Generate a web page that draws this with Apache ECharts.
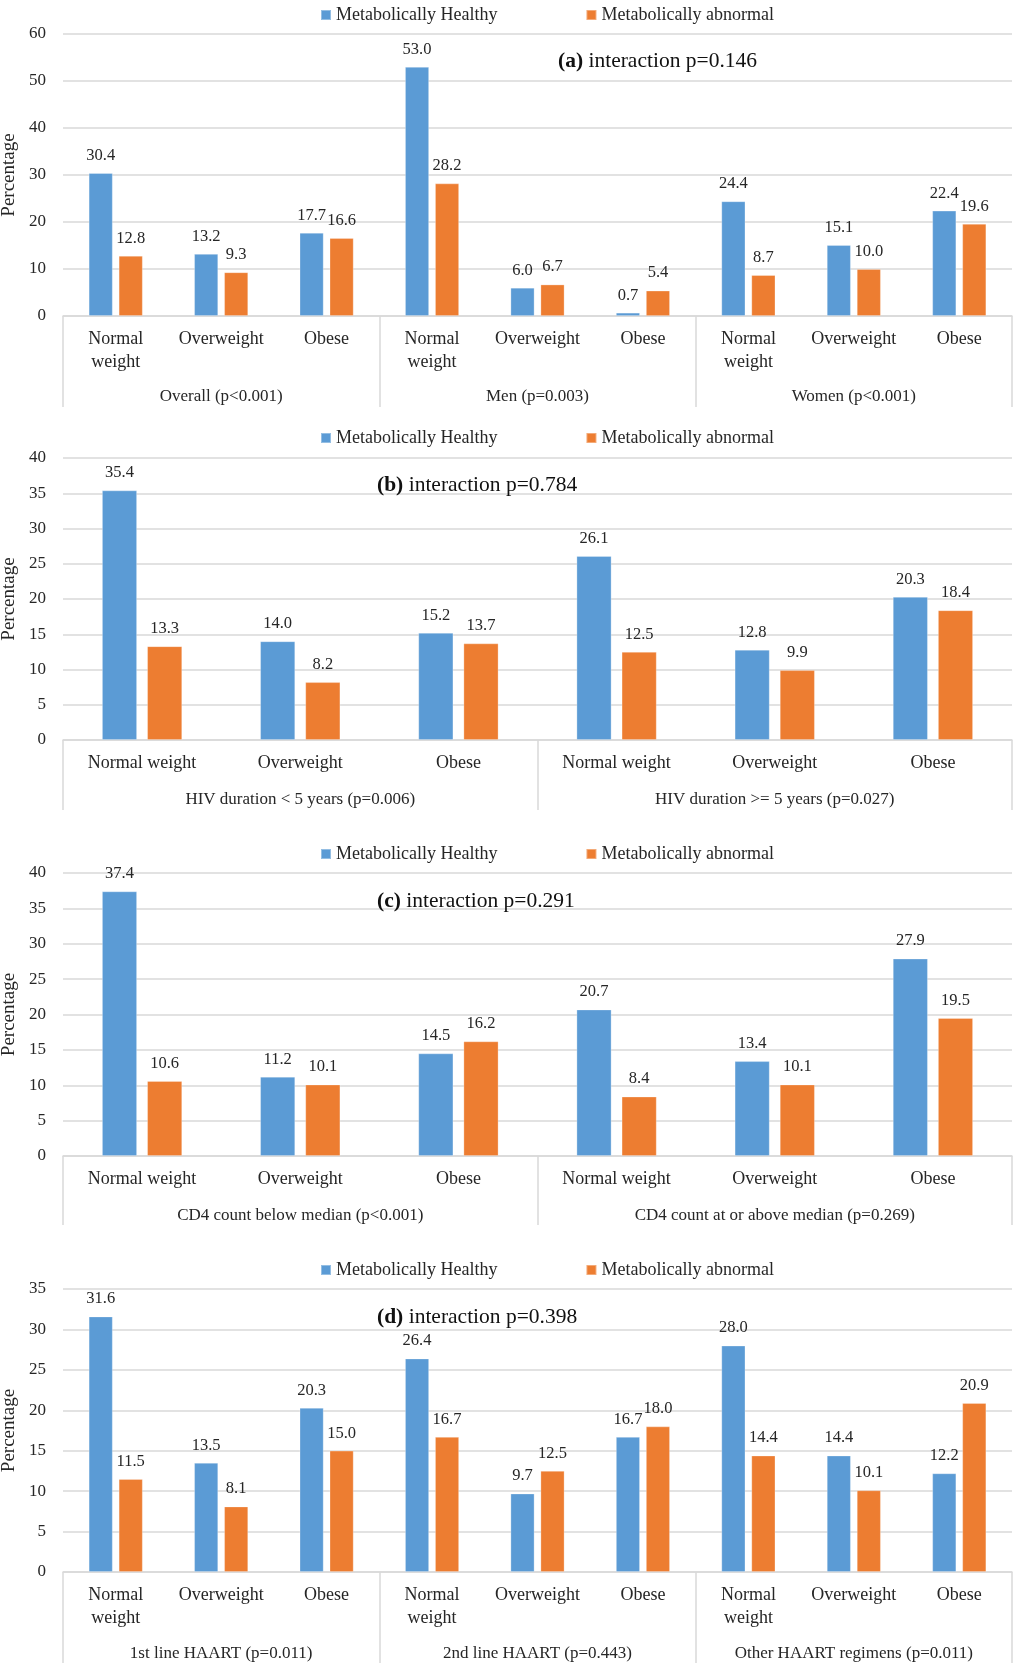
<!DOCTYPE html>
<html>
<head>
<meta charset="utf-8">
<script src="https://cdn.jsdelivr.net/npm/echarts@6/dist/echarts.min.js"></script>
<style>
html,body{margin:0;padding:0;background:#fff;}
#chart{width:1024px;height:1670px;}
</style>
</head>
<body>
<div id="chart"></div>
<script>
// ---- data ----
const seriesNames = ['Metabolically Healthy', 'Metabolically abnormal'];
const weightCats = ['Normal weight', 'Overweight', 'Obese'];

const groupsA = ['Overall (p<0.001)', 'Men (p=0.003)', 'Women (p<0.001)'];
const healthyA = [30.4, 13.2, 17.7, 53.0, 6.0, 0.7, 24.4, 15.1, 22.4];
const abnormalA = [12.8, 9.3, 16.6, 28.2, 6.7, 5.4, 8.7, 10.0, 19.6];

const groupsB = ['HIV duration < 5 years (p=0.006)', 'HIV duration >= 5 years (p=0.027)'];
const healthyB = [35.4, 14.0, 15.2, 26.1, 12.8, 20.3];
const abnormalB = [13.3, 8.2, 13.7, 12.5, 9.9, 18.4];

const groupsC = ['CD4 count below median (p<0.001)', 'CD4 count at or above median (p=0.269)'];
const healthyC = [37.4, 11.2, 14.5, 20.7, 13.4, 27.9];
const abnormalC = [10.6, 10.1, 16.2, 8.4, 10.1, 19.5];

const groupsD = ['1st line HAART (p=0.011)', '2nd line HAART (p=0.443)', 'Other HAART regimens (p=0.011)'];
const healthyD = [31.6, 13.5, 20.3, 26.4, 9.7, 16.7, 28.0, 14.4, 12.2];
const abnormalD = [11.5, 8.1, 15.0, 16.7, 12.5, 18.0, 14.4, 10.1, 20.9];

const titlesTag = ['(a)', '(b)', '(c)', '(d)'];
const titlesText = ['interaction p=0.146', 'interaction p=0.784', 'interaction p=0.291', 'interaction p=0.398'];
const yMax = [60, 40, 40, 35];
const yStep = [10, 5, 5, 5];

// ---- layout ----
const FONT = 'Liberation Serif';
const TXT = '#262626';
const GRID = '#d9d9d9';
const BLUE = '#5B9BD5';
const ORANGE = '#ED7D31';

const panels = [
  {groups: groupsA, h: healthyA, a: abnormalA, top: 34, height: 282, wrap: true, legendTop: 6, titleTop: 50, titleLeft: 558, barW: 24, gap: '25%', tickLen: 91, groupMargin: 71},
  {groups: groupsB, h: healthyB, a: abnormalB, top: 458, height: 282, wrap: false, legendTop: 429, titleTop: 474, titleLeft: 377, barW: 35, gap: '29%', tickLen: 70, groupMargin: 50},
  {groups: groupsC, h: healthyC, a: abnormalC, top: 873, height: 283, wrap: false, legendTop: 845, titleTop: 890, titleLeft: 377, barW: 35, gap: '29%', tickLen: 69, groupMargin: 50},
  {groups: groupsD, h: healthyD, a: abnormalD, top: 1289, height: 283, wrap: true, legendTop: 1261, titleTop: 1306, titleLeft: 377, barW: 24, gap: '25%', tickLen: 91, groupMargin: 72}
];

const option = {
  animation: false,
  backgroundColor: '#fff',
  textStyle: {fontFamily: FONT, color: TXT},
  title: [], legend: [], grid: [], xAxis: [], yAxis: [], series: []
};

panels.forEach((p, i) => {
  const cats = [];
  p.groups.forEach(() => weightCats.forEach(c => cats.push(c)));
  option.grid.push({left: 63, right: 12, top: p.top, height: p.height, containLabel: false, outerBoundsMode: 'none'});
  option.title.push({
    text: '{b|' + titlesTag[i] + '} ' + titlesText[i],
    left: p.titleLeft, top: p.titleTop, padding: 0,
    textStyle: {
      fontFamily: FONT, fontSize: 21.5, fontWeight: 'normal', color: '#111',
      rich: {b: {fontFamily: FONT, fontSize: 21.5, fontWeight: 'bold', color: '#111'}}
    }
  });
  option.legend.push({
    data: seriesNames, left: 320, top: p.legendTop, padding: 0,
    itemWidth: 10, itemHeight: 10, itemGap: 88, icon: 'rect',
    textStyle: {fontFamily: FONT, fontSize: 18, color: TXT}
  });
  option.xAxis.push({
    type: 'category', gridIndex: i, data: cats, position: 'bottom',
    axisLine: {show: true, lineStyle: {color: GRID, width: 1.5}},
    axisTick: {show: false},
    axisLabel: {
      interval: 0, margin: 12, fontFamily: FONT, fontSize: 18, color: TXT, lineHeight: 23,
      formatter: v => p.wrap ? v.replace(' ', '\n') : v
    }
  });
  option.xAxis.push({
    type: 'category', gridIndex: i, data: p.groups, position: 'bottom',
    axisLine: {show: false},
    axisTick: {show: true, interval: 0, length: p.tickLen, lineStyle: {color: GRID, width: 1.5}},
    axisLabel: {interval: 0, margin: p.groupMargin, fontFamily: FONT, fontSize: 17, color: TXT, lineHeight: 20},
    splitLine: {show: false}
  });
  option.yAxis.push({
    type: 'value', gridIndex: i, min: 0, max: yMax[i], interval: yStep[i],
    name: 'Percentage', nameLocation: 'middle', nameRotate: 90, nameGap: 37,
    nameTextStyle: {fontFamily: FONT, fontSize: 19, color: TXT},
    axisLine: {show: false}, axisTick: {show: false},
    axisLabel: {fontFamily: FONT, fontSize: 17, color: TXT, margin: 17},
    splitLine: {lineStyle: {color: GRID, width: 1.5}}
  });
  const xi = i * 2;
  [p.h, p.a].forEach((vals, k) => {
    option.series.push({
      name: seriesNames[k], type: 'bar', xAxisIndex: xi, yAxisIndex: i,
      data: vals, barWidth: p.barW, barGap: p.gap,
      itemStyle: {color: k === 0 ? BLUE : ORANGE, borderColor: 'rgba(255,255,255,0.35)', borderWidth: 0.8},
      label: {
        show: true, position: 'top', distance: 9,
        fontFamily: FONT, fontSize: 16.5, color: TXT,
        formatter: d => d.value.toFixed(1)
      }
    });
  });
});

const chart = echarts.init(document.getElementById('chart'), null, {renderer: 'canvas'});
chart.setOption(option);
</script>
</body>
</html>
